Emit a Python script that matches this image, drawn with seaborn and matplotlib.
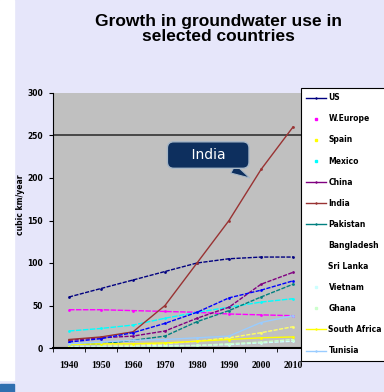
import numpy as np
import pandas as pd
import seaborn as sns
import matplotlib.pyplot as plt
from matplotlib.lines import Line2D
from matplotlib.patches import Rectangle

years = [1940, 1950, 1960, 1970, 1980, 1990, 2000, 2010]

# cubic km / year
us = [60, 70, 80, 90, 100, 105, 107, 107]
w_europe = [45, 45, 44, 43, 42, 40, 39, 38]
spain = [5, 4, 3, 5, 8, 12, 18, 25]
mexico = [20, 23, 27, 35, 42, 48, 54, 58]
china = [9, 12, 14, 20, 35, 48, 75, 89]
india = [10, 13, 19, 50, 100, 150, 210, 260]
pakistan = [4, 5, 9, 14, 31, 44, 60, 75]
bangladesh = [7, 11, 18, 29, 42, 59, 68, 79]
sri_lanka = [1, 1, 1, 1, 1, 1, 1, 1]
vietnam = [2, 2, 2, 3, 3, 4, 6, 8]
ghana = [1, 1, 1, 2, 3, 5, 7, 10]
south_africa = [4, 5, 5, 6, 8, 10, 12, 13]
tunisia = [5, 7, 9, 10, 12, 14, 30, 38]

countries = ["US", "W.Europe", "Spain", "Mexico", "China", "India", "Pakistan",
             "Bangladesh", "Sri Lanka", "Vietnam", "Ghana", "South Africa", "Tunisia"]
values = [us, w_europe, spain, mexico, china, india, pakistan,
          bangladesh, sri_lanka, vietnam, ghana, south_africa, tunisia]

colors = {"US": "#000080", "W.Europe": "#ff00ff", "Spain": "#ffff66", "Mexico": "#00ffff",
          "China": "#800080", "India": "#993333", "Pakistan": "#008080",
          "Bangladesh": "#0000ff", "Sri Lanka": "#c0c0c0", "Vietnam": "#ccffff",
          "Ghana": "#ccffcc", "South Africa": "#ffff00", "Tunisia": "#99ccff"}
styles = {"US": (0, (3, 1)), "W.Europe": (0, (4, 1)), "Spain": (0, (3, 1)),
          "Mexico": (0, (4, 1)), "China": (0, (3, 1)), "India": "-",
          "Pakistan": (0, (3, 1)), "Bangladesh": (0, (3, 1)), "Sri Lanka": "-",
          "Vietnam": (0, (3, 1)), "Ghana": (0, (3, 1)), "South Africa": "-",
          "Tunisia": "-"}

df = pd.DataFrame({"year": years * len(countries),
                   "country": [c for c in countries for _ in years],
                   "value": [v for vals in values for v in vals]})

fig = plt.figure(figsize=(3.84, 3.92), dpi=100)
fig.patch.set_facecolor("#e6e6fa")
fig.patches.append(Rectangle((0, 0.03), 14 / 384, 0.97, transform=fig.transFigure,
                             color="white", zorder=-1))
fig.patches.append(Rectangle((0, 0), 14 / 384, 8 / 392, transform=fig.transFigure,
                             color="#2f6fb0", zorder=-1))

ax = fig.add_axes([53 / 384, 1 - 348 / 392, 256 / 384, 255 / 392])
ax.set_facecolor("#c0c0c0")

for c in countries:
    sub = df[df.country == c]
    sns.lineplot(data=sub, x="year", y="value", ax=ax, color=colors[c],
                 linestyle=styles[c], linewidth=1.0, marker="o", markersize=2,
                 markeredgewidth=0, legend=False)

ax.axhline(250, color="#333333", linewidth=1.2, zorder=1)

ax.set_xlim(1935, 2015)
ax.set_ylim(0, 300)
ax.set_xticks(years)
ax.set_xticklabels([str(y) for y in years], fontsize=7, fontweight="bold",
                   family="Liberation Serif")
ax.set_xticks(np.arange(1935, 2016, 10), minor=True)
ax.tick_params(axis="x", which="major", length=0, pad=9)
ax.tick_params(axis="x", which="minor", length=3, color="black")
ax.set_yticks(range(0, 301, 50))
ax.set_yticklabels([str(v) for v in range(0, 301, 50)], fontsize=5.5, fontweight="bold")
ax.tick_params(axis="y", length=3, pad=4)
ax.set_xlabel("")
ax.set_ylabel("cubic km/year", fontsize=5.5, fontweight="bold")
ax.yaxis.set_label_coords(-0.11, 0.56)
for s in ["top", "right"]:
    ax.spines[s].set_visible(False)
ax.spines["bottom"].set_linewidth(1.5)
ax.spines["left"].set_linewidth(0.8)

ax.annotate("    India    ", xy=(1996.5, 200), xytext=(1983.5, 227),
            color="white", fontsize=10, ha="center", va="center",
            bbox=dict(boxstyle="round,pad=0.45", fc="#0d2f5e", ec="#a8b8c8", lw=1),
            arrowprops=dict(arrowstyle="wedge,tail_width=0.7", fc="#0d2f5e",
                            ec="#a8b8c8", lw=0.8, shrinkA=0, shrinkB=0))

marker_only = {"W.Europe", "Spain", "Mexico", "Vietnam", "Ghana"}
blank = {"Bangladesh", "Sri Lanka"}
legend_colors = dict(colors)
legend_colors["Spain"] = "#ffff00"
handles = []
for c in countries:
    if c in blank:
        handles.append(Line2D([], [], color="none"))
    elif c in marker_only:
        handles.append(Line2D([], [], color=legend_colors[c], linestyle="none",
                              marker="s", markersize=2))
    else:
        handles.append(Line2D([], [], color=legend_colors[c], linewidth=1,
                              marker="+", markersize=2))
leg = ax.legend(handles, countries, loc="upper left",
                bbox_to_anchor=(301 / 384, 1 - 88 / 392), bbox_transform=fig.transFigure,
                prop={"size": 5.5, "weight": "bold"}, labelspacing=1.58,
                handlelength=2.6, handletextpad=0.3, borderpad=0.7,
                borderaxespad=0, fancybox=False, framealpha=1, edgecolor="black")
leg.get_frame().set_linewidth(0.8)

fig.text(0.568, 0.926, "Growth in groundwater use in\nselected countries",
         ha="center", va="center", fontsize=12.5, fontweight="bold",
         family="Liberation Sans", linespacing=1.0)

fig.savefig("out.png", dpi=100, facecolor=fig.get_facecolor())
